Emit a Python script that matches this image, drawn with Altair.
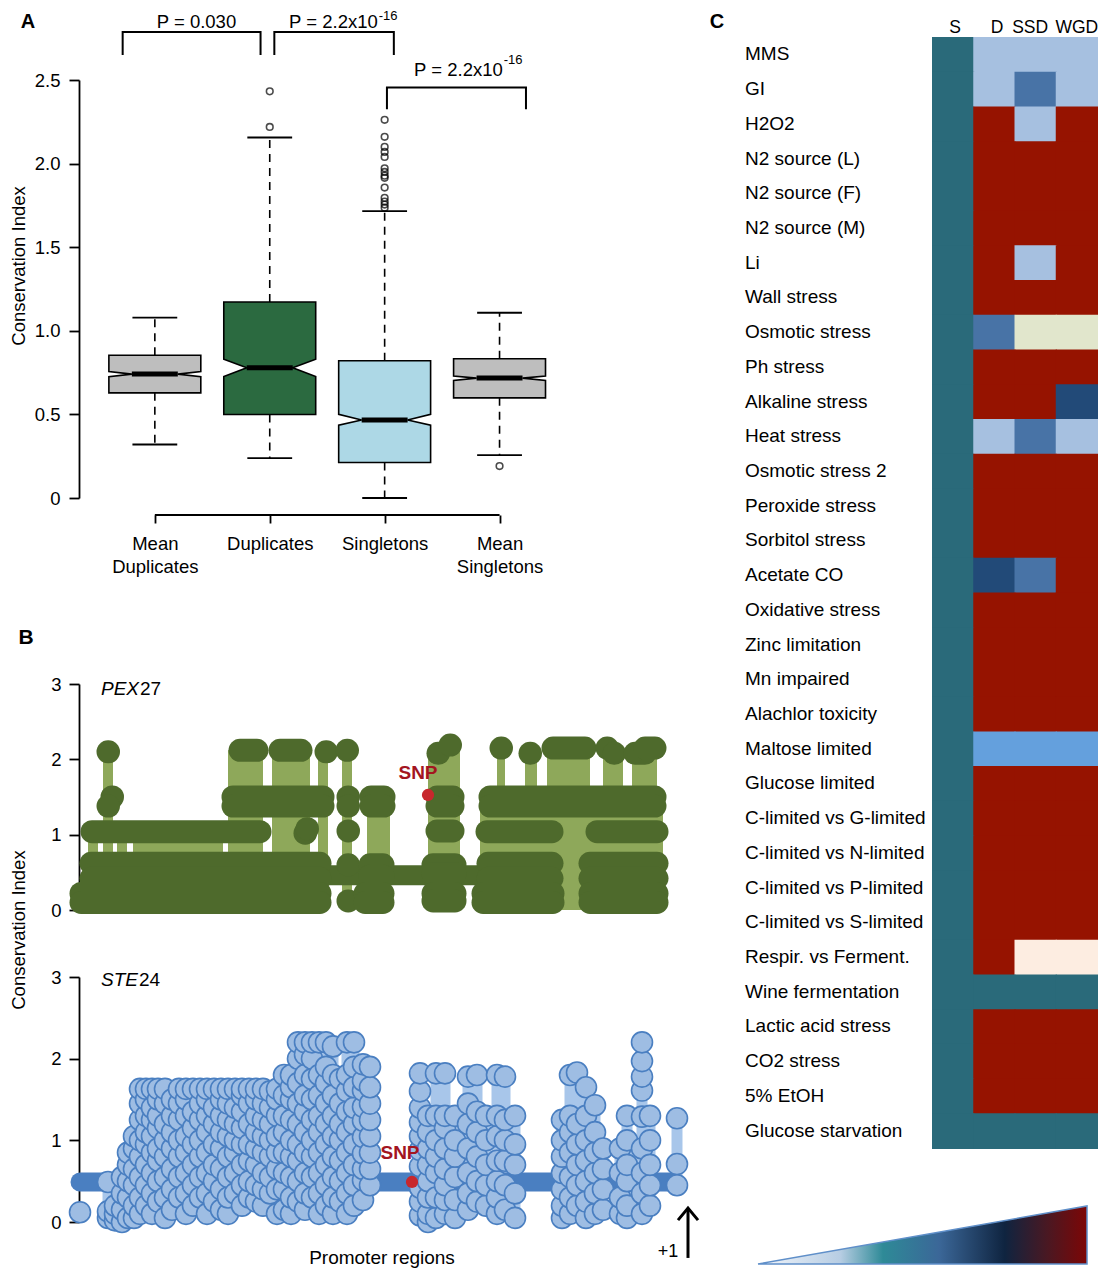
import json
import altair as alt
import pandas as pd

FONT = "Liberation Sans"

# =========================== DATA ===========================
# ---- Panel A: conservation index box plots
groups = ["Mean Duplicates", "Duplicates", "Singletons", "Mean Singletons"]
group_label_lines = [["Mean", "Duplicates"], ["Duplicates"], ["Singletons"], ["Mean", "Singletons"]]
group_pos = [1, 2, 3, 4]
whisker_lo = [0.320, 0.238, 0.000, 0.256]
q1 = [0.629, 0.499, 0.212, 0.599]
notch_lo = [0.725, 0.727, 0.436, 0.703]
median = [0.741, 0.779, 0.467, 0.717]
notch_hi = [0.757, 0.830, 0.500, 0.730]
q3 = [0.854, 1.172, 0.821, 0.833]
whisker_hi = [1.079, 2.156, 1.716, 1.108]
outliers = [(2, 2.219), (2, 2.432),
            (3, 1.736), (3, 1.755), (3, 1.773), (3, 1.795), (3, 1.857), (3, 1.915), (3, 1.928),
            (3, 1.950), (3, 1.972), (3, 2.040), (3, 2.070), (3, 2.100), (3, 2.160), (3, 2.262),
            (4, 0.191)]
bracket_x = [(0.72, 1.92), (2.04, 3.08), (3.02, 4.23)]
bracket_top = [2.787, 2.787, 2.455]
bracket_low = [2.650, 2.650, 2.325]
p_text = ["P = 0.030", "P = 2.2x10", "P = 2.2x10"]
p_text_right = [1.708, 2.940, 4.028]
p_text_y = [2.847, 2.847, 2.560]
p_exp = ["", "-16", "-16"]
p_exp_y = [2.883, 2.883, 2.620]

# ---- Panel B (top): PEX27 promoter, runs of overlapping dots (level, start, end)
pex27_runs = [
    (2.10, 29, 29.5), (2.12, 161, 178), (2.12, 201, 222), (2.10, 247, 247.5), (2.12, 268, 268.5),
    (2.08, 359, 359.5), (2.19, 371, 371.5), (2.15, 422, 422.5), (2.08, 451, 451.5), (2.15, 474, 506),
    (2.15, 528, 528.5), (2.08, 535, 535.5), (2.08, 556, 566), (2.15, 566, 576),
    (1.50, 33, 33.5), (1.38, 29, 29.5), (1.50, 154, 244), (1.38, 154, 244), (1.50, 269, 269.5),
    (1.38, 269, 269.5), (1.50, 292, 305), (1.38, 292, 305), (1.50, 358, 374), (1.38, 358, 374),
    (1.50, 411, 576), (1.38, 411, 576),
    (1.04, 13, 181), (1.02, 226, 226.5), (1.08, 228, 228.5), (1.05, 269, 269.5), (1.05, 358, 374),
    (1.04, 408, 473), (1.04, 518, 578),
    (0.62, 12, 241), (0.42, 12, 241), (0.60, 269, 269.5), (0.60, 291, 304), (0.45, 291, 304),
    (0.60, 354, 376), (0.48, 354, 376), (0.62, 409, 473), (0.42, 409, 473), (0.62, 511, 578),
    (0.42, 511, 578),
    (0.22, 2, 241), (0.10, 2, 241), (0.12, 269, 269.5), (0.22, 286, 304), (0.10, 286, 304),
    (0.22, 354, 376), (0.12, 354, 376), (0.22, 404, 474), (0.10, 404, 474), (0.22, 511, 578),
    (0.10, 511, 578),
]
# stems (start, end, top)
pex27_stems = [(9, 19, 1.05), (24, 34, 2.10), (38, 48, 1.05), (54, 144, 1.05), (149, 184, 2.12),
               (193, 231, 2.12), (239, 249, 2.10), (263, 273, 2.12), (288, 311, 1.45), (349, 381, 2.15),
               (401, 481, 1.45), (418, 426, 2.15), (446, 458, 2.08), (468, 511, 2.15), (508, 584, 1.45),
               (524, 544, 2.15), (553, 578, 2.15)]
pex27_track = [(0.46, 236, 401)]
pex27_snp = (349, 1.527)

# ---- Panel B (bottom): STE24 promoter, dot columns (position, values)
ste24_columns = [
    (1, [0.12]),
    (29, [0.05, 0.13, 0.49]),
    (36, [0.02, 0.10, 0.20]),
    (43, [0.00, 0.15, 0.35, 0.55]),
    (49, [0.05, 0.30, 0.50, 0.70, 0.85]),
    (55, [0.05, 0.20, 0.45, 0.65, 0.90, 1.05]),
    (61, [0.10, 0.30, 0.55, 0.80, 1.00, 1.25, 1.45, 1.63]),
    (67, [0.20, 0.45, 0.70, 0.95, 1.10, 1.30, 1.50, 1.63]),
    (73, [0.10, 0.35, 0.60, 0.85, 1.05, 1.25, 1.40, 1.63]),
    (79, [0.25, 0.50, 0.75, 0.90, 1.15, 1.30, 1.50, 1.63]),
    (86, [0.05, 0.30, 0.55, 0.80, 1.00, 1.20, 1.45, 1.63]),
    (93, [0.15, 0.40, 0.65, 0.90, 1.10, 1.30, 1.50]),
    (100, [0.30, 0.55, 0.80, 1.00, 1.25, 1.45, 1.63]),
    (107, [0.10, 0.35, 0.60, 0.85, 1.05, 1.30, 1.50, 1.63]),
    (114, [0.20, 0.45, 0.70, 0.95, 1.15, 1.35, 1.63]),
    (121, [0.30, 0.55, 0.80, 1.00, 1.25, 1.45, 1.63]),
    (128, [0.10, 0.35, 0.60, 0.85, 1.10, 1.30, 1.50, 1.63]),
    (135, [0.25, 0.50, 0.70, 0.95, 1.20, 1.40, 1.63]),
    (142, [0.15, 0.40, 0.65, 0.90, 1.10, 1.30, 1.50, 1.63]),
    (149, [0.10, 0.30, 0.55, 0.80, 1.05, 1.25, 1.45, 1.63]),
    (156, [0.35, 0.60, 0.85, 1.00, 1.20, 1.40, 1.63]),
    (163, [0.20, 0.45, 0.70, 0.95, 1.15, 1.35, 1.55, 1.63]),
    (170, [0.30, 0.50, 0.75, 0.95, 1.20, 1.45, 1.63]),
    (177, [0.25, 0.45, 0.70, 0.90, 1.10, 1.30, 1.50, 1.63]),
    (184, [0.20, 0.40, 0.60, 0.85, 1.05, 1.25, 1.45, 1.63]),
    (191, [0.35, 0.55, 0.80, 1.00, 1.20, 1.40, 1.60]),
    (198, [0.10, 0.40, 0.65, 0.85, 1.05, 1.30, 1.50, 1.63]),
    (205, [0.15, 0.40, 0.60, 0.85, 1.10, 1.30, 1.55, 1.80]),
    (212, [0.10, 0.30, 0.55, 0.80, 1.00, 1.25, 1.50, 1.65, 1.80]),
    (219, [0.25, 0.50, 0.75, 0.95, 1.20, 1.45, 1.70, 2.00, 2.20]),
    (226, [0.15, 0.35, 0.60, 0.85, 1.10, 1.35, 1.55, 1.80, 2.05, 2.20]),
    (233, [0.30, 0.55, 0.80, 1.00, 1.25, 1.50, 1.75, 2.00, 2.20]),
    (240, [0.10, 0.35, 0.60, 0.85, 1.10, 1.30, 1.55, 1.80, 2.20]),
    (247, [0.20, 0.45, 0.70, 0.95, 1.20, 1.45, 1.70, 1.90, 2.20]),
    (254, [0.10, 0.30, 0.55, 0.80, 1.05, 1.30, 1.55, 1.80, 2.15]),
    (261, [0.25, 0.50, 0.75, 1.00, 1.20, 1.45, 1.75]),
    (268, [0.10, 0.35, 0.60, 0.85, 1.10, 1.35, 1.60, 1.80, 2.20]),
    (275, [0.20, 0.45, 0.70, 0.95, 1.20, 1.40, 1.65, 1.90, 2.20]),
    (284, [0.27, 0.51, 0.65, 0.84, 1.04, 1.24, 1.41, 1.61, 1.73, 1.93]),
    (291, [0.45, 0.65, 0.85, 1.05, 1.25, 1.45, 1.65, 1.90]),
    (341, [0.08, 0.25, 0.42, 0.68, 0.88, 1.05, 1.22, 1.40, 1.60, 1.82]),
    (349, [0.00, 0.10, 0.30, 0.50, 0.70, 0.90, 1.10, 1.30]),
    (357, [0.05, 0.30, 0.60, 0.80, 1.00, 1.30, 1.82]),
    (366, [0.10, 0.27, 0.45, 0.65, 0.90, 1.15, 1.30, 1.82]),
    (376, [0.05, 0.27, 0.55, 0.80, 1.00, 1.30]),
    (389, [0.15, 0.35, 0.60, 0.90, 1.20, 1.45, 1.78]),
    (398, [0.25, 0.50, 0.80, 1.10, 1.35, 1.80]),
    (407, [0.20, 0.45, 0.70, 1.00, 1.30]),
    (418, [0.10, 0.30, 0.50, 0.75, 1.05, 1.30, 1.80]),
    (426, [0.15, 0.45, 0.75, 1.00, 1.25, 1.78]),
    (436, [0.05, 0.35, 0.70, 0.95, 1.30]),
    (483, [0.05, 0.20, 0.40, 0.60, 0.80, 1.00, 1.25]),
    (491, [0.10, 0.30, 0.55, 0.85, 1.10, 1.30, 1.80]),
    (498, [0.20, 0.45, 0.70, 0.95, 1.20, 1.83]),
    (507, [0.05, 0.25, 0.50, 0.75, 1.00, 1.30, 1.65]),
    (516, [0.10, 0.35, 0.60, 0.85, 1.10, 1.43]),
    (524, [0.15, 0.40, 0.65, 0.90]),
    (541, [0.10, 0.30, 0.60, 0.90]),
    (548, [0.05, 0.20, 0.50, 0.70, 1.00, 1.30]),
    (563, [0.10, 0.35, 0.60, 0.90, 1.29, 1.61, 1.78, 1.97, 2.20]),
    (571, [0.20, 0.45, 0.70, 1.00, 1.30]),
    (598, [0.45, 0.71, 1.27]),
]
ste24_track = [(0.49, 1, 594), (0.27, 358, 378)]
ste24_snp = (333, 0.49)
tss_pos = 609

# ---- Panel C: heat map
conditions = ["MMS", "GI", "H2O2", "N2 source (L)", "N2 source (F)", "N2 source (M)", "\u00a0Li",
              "Wall stress", "Osmotic stress", "Ph stress", "Alkaline stress", "Heat stress",
              "Osmotic stress 2", "Peroxide stress", "Sorbitol stress", "Acetate CO",
              "Oxidative stress", "Zinc limitation", "Mn impaired", "Alachlor toxicity",
              "Maltose limited", "Glucose limited", "C-limited vs G-limited", "C-limited vs N-limited",
              "C-limited vs P-limited", "C-limited vs S-limited", "Respir. vs Ferment.",
              "Wine fermentation", "Lactic acid stress", "CO2 stress", "5% EtOH", "Glucose starvation"]
gene_sets = ["S", "D", "SSD", "WGD"]
cell_codes = ["TLLL", "TLML", "TRLR", "TRRR", "TRRR", "TRRR", "TRLR", "TRRR", "TMYY", "TRRR",
              "TRRN", "TLML", "TRRR", "TRRR", "TRRR", "TNMR", "TRRR", "TRRR", "TRRR", "TRRR",
              "TKKK", "TRRR", "TRRR", "TRRR", "TRRR", "TRRR", "TRPP", "TTTT", "TRRR", "TRRR",
              "TRRR", "TTTT"]

# =========================== STYLE / LAYOUT ===========================
box_fill = ["#bebebe", "#2b6a40", "#add8e6", "#bebebe"]
code_colors = {"T": "#2a6a7a", "L": "#a6c0e0", "M": "#4873a6", "N": "#224a78",
               "R": "#961300", "Y": "#e1e6cc", "P": "#fdede1", "K": "#64a0dd"}
GREEN_DARK, GREEN_STEM = "#4e6a2c", "#8ea85a"
BLUE_LINE, BLUE_FILL, BLUE_STEM = "#4a7fc1", "#9ebde3", "#a8c6ea"
SNP_RED, SNP_TXT = "#c8282d", "#a3151f"

A_W, A_H = 478, 418
B_W, B1_H, B2_H = 615, 226, 245
C_W, C_H = 165, 418
GAP_ROW, GAP_COL, SPACER_H = 67, 238, 52
HW, NOTCH, CAP = 0.40, 0.5, 0.195
# page placement of the grid origin (autosize "none"): svg = 1092 x 1262
PAD = {"left": 71, "top": 72, "right": 1021, "bottom": 1190}

# =========================== PANEL A ===========================
XA = alt.Scale(domain=[0.34, 4.5], nice=False, zero=False)
YA = alt.Scale(domain=[0, 2.5], nice=False, zero=False)

lab_expr = "''"
for p, lines in reversed(list(zip(group_pos, group_label_lines))):
    val = json.dumps(lines if len(lines) > 1 else lines[0])
    lab_expr = f"datum.value == {p} ? {val} : {lab_expr}"

AX_XA = alt.Axis(values=group_pos, labelExpr=lab_expr, domain=False, ticks=True, tickSize=8,
                 tickWidth=1.8, offset=17, labelPadding=11, labelFontSize=18.5,
                 labelLineHeight=23, labelOverlap=False, labelFlush=False, grid=False, title=None)
AX_YA = alt.Axis(values=[0, 0.5, 1, 1.5, 2, 2.5],
                 labelExpr="datum.value == 0 ? '0' : format(datum.value, '.1f')",
                 tickSize=10, tickWidth=1.8, domainWidth=1.8, labelPadding=9, labelFontSize=18.5,
                 labelFlush=False, labelOverlap=False, grid=False, title=None)


def xa(f):
    return alt.X(f"{f}:Q", scale=XA, axis=AX_XA)


def ya(f):
    return alt.Y(f"{f}:Q", scale=YA, axis=AX_YA)


box_rows, whisk_rows, cap_rows, med_rows = [], [], [], []
for g, c, f, a, b, m, d, e, wl, wh in zip(groups, group_pos, box_fill, q1, notch_lo, median,
                                         notch_hi, q3, whisker_lo, whisker_hi):
    for yv, frac in ((a, 1.0), (b, 1.0), (m, NOTCH), (d, 1.0), (e, 1.0)):
        box_rows.append({"box": g, "y": yv, "xl": c - HW * frac, "xr": c + HW * frac, "fill": f})
    whisk_rows += [{"x": c, "y0": e, "y1": wh}, {"x": c, "y0": a, "y1": wl}]
    cap_rows += [{"x0": c - CAP, "x1": c + CAP, "y": wh}, {"x0": c - CAP, "x1": c + CAP, "y": wl}]
    med_rows.append({"x0": c - HW * NOTCH, "x1": c + HW * NOTCH, "y": m})

out_df = pd.DataFrame(outliers, columns=["x", "y"])
br_rows = []
for i, ((x0, x1), top, low) in enumerate(zip(bracket_x, bracket_top, bracket_low)):
    for k, (xv, yv) in enumerate(((x0, low), (x0, top), (x1, top), (x1, low))):
        br_rows.append({"id": i, "k": k, "x": xv, "y": yv})
p_df = pd.DataFrame({"text": p_text, "x": p_text_right, "y": p_text_y})
exp_df = pd.DataFrame({"text": p_exp, "x": p_text_right, "y": p_exp_y})
exp_df = exp_df[exp_df["text"] != ""]
axis_line_df = pd.DataFrame({"x0": [group_pos[0]], "x1": [group_pos[-1]]})

boxes = alt.Chart(pd.DataFrame(box_rows)).mark_area(
    orient="horizontal", stroke="black", strokeWidth=1.6).encode(
    y=ya("y"), x=xa("xl"), x2=alt.X2("xr"), fill=alt.Fill("fill:N", scale=None), detail="box:N")
whisk = alt.Chart(pd.DataFrame(whisk_rows)).mark_rule(
    strokeDash=[8, 6], strokeWidth=1.6, color="black").encode(x=xa("x"), y=ya("y0"), y2=alt.Y2("y1"))
caps = alt.Chart(pd.DataFrame(cap_rows)).mark_rule(strokeWidth=1.8, color="black").encode(
    x=xa("x0"), x2=alt.X2("x1"), y=ya("y"))
meds = alt.Chart(pd.DataFrame(med_rows)).mark_rule(strokeWidth=5, color="black").encode(
    x=xa("x0"), x2=alt.X2("x1"), y=ya("y"))
outl = alt.Chart(out_df).mark_point(shape="circle", filled=False, color="black", strokeWidth=1.6,
                                    size=44).encode(x=xa("x"), y=ya("y"))
brackets = alt.Chart(pd.DataFrame(br_rows)).mark_line(color="black", strokeWidth=2).encode(
    x=xa("x"), y=ya("y"), detail="id:N", order="k:Q")
axis_line = alt.Chart(axis_line_df).mark_rule(strokeWidth=1.8, color="black").encode(
    x=xa("x0"), x2=alt.X2("x1"), y=alt.value(A_H + 17))
ptxt = alt.Chart(p_df).mark_text(font=FONT, fontSize=18.5, align="right", color="black").encode(
    x=xa("x"), y=ya("y"), text="text:N")
pexp = alt.Chart(exp_df).mark_text(font=FONT, fontSize=13, align="left", dx=1, color="black").encode(
    x=xa("x"), y=ya("y"), text="text:N")
a_letter = alt.Chart(pd.DataFrame({"text": ["A"], "x": [-0.104], "y": [2.847]})).mark_text(
    font=FONT, fontSize=20, fontWeight="bold", color="black").encode(x=xa("x"), y=ya("y"), text="text:N")
a_title = alt.Chart(pd.DataFrame({"text": ["Conservation Index"], "x": [-0.182], "y": [1.388]})).mark_text(
    font=FONT, fontSize=18.5, angle=270, color="black").encode(x=xa("x"), y=ya("y"), text="text:N")

panelA = alt.layer(whisk, boxes, caps, meds, outl, brackets, axis_line, ptxt, pexp, a_letter,
                   a_title).properties(width=A_W, height=A_H)

# =========================== PANEL B ===========================
XB = alt.Scale(domain=[0, B_W], nice=False, zero=False)
YB = alt.Scale(domain=[0, 3], nice=False, zero=False)
AX_YB = alt.Axis(values=[0, 1, 2, 3], format="d", tickSize=10, tickWidth=1.8, domainWidth=1.8,
                 labelPadding=8, labelFontSize=18.5, labelFlush=False, grid=False, title=None)


def xb(f):
    return alt.X(f"{f}:Q", scale=XB, axis=None)


def yb(f):
    return alt.Y(f"{f}:Q", scale=YB, axis=AX_YB)


def label(df, **kw):
    return alt.Chart(pd.DataFrame(df)).mark_text(font=FONT, **kw).encode(
        x=xb("x"), y=yb("y"), text="text:N")


# --- top: PEX27
stem_df = pd.DataFrame(pex27_stems, columns=["x0", "x1", "top"]).assign(base=0)
run_df = pd.DataFrame(pex27_runs, columns=["level", "x0", "x1"])
trk_df = pd.DataFrame(pex27_track, columns=["level", "x0", "x1"])

g_stems = alt.Chart(stem_df).mark_rect(color=GREEN_STEM).encode(
    x=xb("x0"), x2=alt.X2("x1"), y=yb("base"), y2=alt.Y2("top"))
g_track = alt.Chart(trk_df).mark_rule(strokeWidth=20, strokeCap="round", color=GREEN_DARK).encode(
    x=xb("x0"), x2=alt.X2("x1"), y=yb("level"))
g_runs = alt.Chart(run_df).mark_rule(strokeWidth=23, strokeCap="round", color=GREEN_DARK).encode(
    x=xb("x0"), x2=alt.X2("x1"), y=yb("level"))
g_snp = alt.Chart(pd.DataFrame({"x": [pex27_snp[0]], "y": [pex27_snp[1]]})).mark_point(
    shape="circle", filled=True, color=SNP_RED, opacity=1, size=150).encode(x=xb("x"), y=yb("y"))
g_snp_t = label({"text": ["SNP"], "x": [339], "y": [1.819]}, fontSize=19, fontWeight="bold", color=SNP_TXT)
g_gene1 = label({"text": ["PEX"], "x": [22], "y": [2.935]}, fontSize=19, fontStyle="italic",
                align="left", color="black")
g_gene2 = label({"text": ["27"], "x": [61], "y": [2.935]}, fontSize=19, align="left", color="black")
b_letter = label({"text": ["B"], "x": [-53], "y": [3.612]}, fontSize=21, fontWeight="bold", color="black")
b_title = label({"text": ["Conservation Index"], "x": [-60.5], "y": [-0.266]}, fontSize=18.5,
                angle=270, color="black")

panelB1 = alt.layer(g_stems, g_track, g_runs, g_snp, g_snp_t, g_gene1, g_gene2, b_letter,
                    b_title).properties(width=B_W, height=B1_H)

# --- bottom: STE24
pts = []
for ci, (xv, vals) in enumerate(ste24_columns):
    for v in vals:
        pts.append({"col": ci, "x": xv, "v": v})
pts_df = pd.DataFrame(pts)
trk2_df = pd.DataFrame(ste24_track, columns=["level", "x0", "x1"])

s_stems = alt.Chart(pts_df).mark_rule(strokeWidth=11, color=BLUE_STEM).encode(
    x=xb("x"), y=alt.Y("min(v):Q", scale=YB, axis=AX_YB), y2=alt.Y2("max(v)"))
s_track = alt.Chart(trk2_df).mark_rule(strokeWidth=19, strokeCap="round", color=BLUE_LINE).encode(
    x=xb("x0"), x2=alt.X2("x1"), y=yb("level"))
s_pts = alt.Chart(pts_df).mark_point(shape="circle", filled=True, fill=BLUE_FILL, stroke=BLUE_LINE,
                                     strokeWidth=1.6, opacity=1, size=441).encode(x=xb("x"), y=yb("v"))
s_snp = alt.Chart(pd.DataFrame({"x": [ste24_snp[0]], "y": [ste24_snp[1]]})).mark_point(
    shape="circle", filled=True, color=SNP_RED, opacity=1, size=150).encode(x=xb("x"), y=yb("y"))
s_snp_t = label({"text": ["SNP"], "x": [321], "y": [0.845]}, fontSize=19, fontWeight="bold", color=SNP_TXT)
s_gene1 = label({"text": ["STE"], "x": [22], "y": [2.963]}, fontSize=19, fontStyle="italic",
                align="left", color="black")
s_gene2 = label({"text": ["24"], "x": [60], "y": [2.963]}, fontSize=19, align="left", color="black")
arrow_df = pd.DataFrame({"x": [tss_pos], "y0": [-0.44], "y1": [0.15], "tip": [0.17]})
s_shaft = alt.Chart(arrow_df).mark_rule(strokeWidth=3, color="black").encode(
    x=xb("x"), y=yb("y0"), y2=alt.Y2("y1"))
s_head = alt.Chart(arrow_df).mark_point(shape="M-1,1.2L0,0L1,1.2", filled=False, color="black",
                                        strokeWidth=3, size=400, opacity=1).encode(x=xb("x"), y=yb("tip"))
s_plus = label({"text": ["+1"], "x": [589], "y": [-0.367]}, fontSize=18, color="black")
s_xtitle = label({"text": ["Promoter regions"], "x": [303], "y": [-0.441]}, fontSize=19, color="black")

panelB2 = alt.layer(s_stems, s_track, s_pts, s_snp, s_snp_t, s_gene1, s_gene2, s_shaft, s_head,
                    s_plus, s_xtitle).properties(width=B_W, height=B2_H)

# =========================== PANEL C ===========================
XC = alt.Scale(domain=[0, 4], nice=False, zero=False)
YC = alt.Scale(domain=[1.2385, 13.278], reverse=True, nice=False, zero=False)


def xc(f):
    return alt.X(f"{f}:Q", scale=XC, axis=None)


def yc(f):
    return alt.Y(f"{f}:Q", scale=YC, axis=None)


cells = []
for i, (cond, codes) in enumerate(zip(conditions, cell_codes)):
    for j, code in enumerate(codes):
        cells.append({"cond": cond, "set": gene_sets[j], "c0": j, "c1": j + 1, "r0": i, "r1": i + 1,
                      "color": code_colors[code]})
cell_df = pd.DataFrame(cells)
heat = alt.Chart(cell_df).mark_rect(x2Offset=1, y2Offset=1).encode(
    x=xc("c0"), x2=alt.X2("c1"), y=yc("r0"), y2=alt.Y2("r1"),
    fill=alt.Fill("color:N", scale=None))
row_lab = alt.Chart(pd.DataFrame({"text": conditions, "x": -4.533,
                                  "y": [i + 0.5 for i in range(len(conditions))]})).mark_text(
    font=FONT, fontSize=19, align="left", color="black").encode(x=xc("x"), y=yc("y"), text="text:N")
head_lab = alt.Chart(pd.DataFrame({"text": gene_sets, "x": [0.56, 1.58, 2.38, 3.51], "y": -0.26})).mark_text(
    font=FONT, fontSize=17.5, color="black").encode(x=xc("x"), y=yc("y"), text="text:N")
c_letter = alt.Chart(pd.DataFrame({"text": ["C"], "x": [-5.21], "y": [-0.432]})).mark_text(
    font=FONT, fontSize=20, fontWeight="bold", color="black").encode(x=xc("x"), y=yc("y"), text="text:N")
tri_df = pd.DataFrame({"x": [-4.218, 3.758], "top": [35.34, 33.67], "bottom": [35.34, 35.34]})
gradient = {"gradient": "linear", "x1": 0, "x2": 1, "y1": 0, "y2": 0,
            "stops": [{"offset": 0.0, "color": "#f3f6fb"}, {"offset": 0.25, "color": "#b7cde3"},
                      {"offset": 0.38, "color": "#2e8a97"}, {"offset": 0.55, "color": "#3b6798"},
                      {"offset": 0.75, "color": "#0f2440"}, {"offset": 0.88, "color": "#4a1822"},
                      {"offset": 1.0, "color": "#7d0606"}]}
tri = alt.Chart(tri_df).mark_area(orient="vertical", fill=gradient, stroke="#5f8fc9",
                                  strokeWidth=1.5).encode(x=xc("x"), y=yc("top"), y2=alt.Y2("bottom"))

panelC = alt.layer(heat, row_lab, head_lab, c_letter, tri).properties(width=C_W, height=C_H)


# =========================== LAYOUT ===========================
def blank(h):
    return alt.Chart(pd.DataFrame({"v": [0]})).mark_point(opacity=0).encode(
        x=alt.X("v:Q", axis=None), y=alt.Y("v:Q", axis=None)).properties(width=10, height=h)


chart = alt.concat(
    panelA, panelC,
    blank(SPACER_H), blank(1),
    panelB1, blank(1),
    panelB2, blank(1),
    columns=2, spacing={"row": GAP_ROW, "column": GAP_COL}, bounds="flush", align="each",
).properties(
    padding=PAD, autosize=alt.AutoSizeParams(type="none")
).configure(font=FONT).configure_view(strokeWidth=0).configure_axis(
    labelColor="black", tickColor="black", domainColor="black", labelFont=FONT, grid=False)

chart.save("out.html", embed_options={"renderer": "svg", "actions": False})
